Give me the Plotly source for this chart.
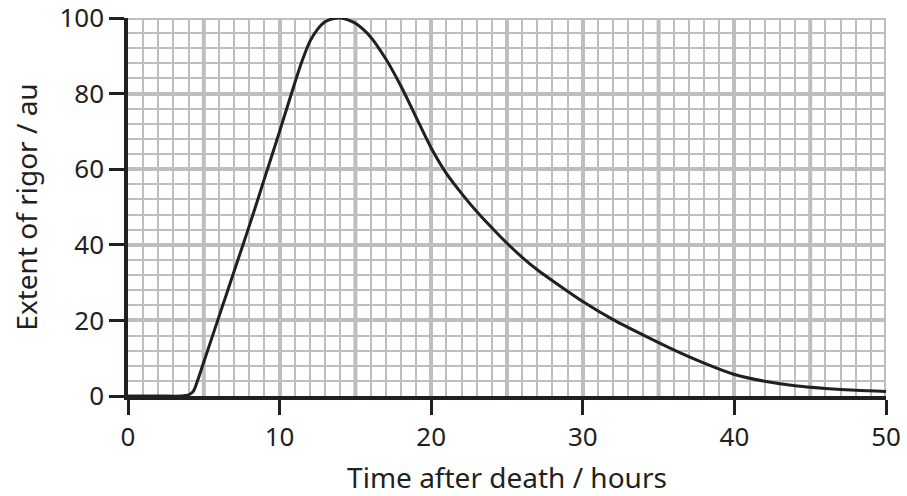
import plotly.graph_objects as go

# Data
time_h = [0, 2, 3.5, 4, 4.3, 4.6, 5, 6, 7, 8, 9, 10, 11, 11.5, 12, 12.5, 13, 13.5, 14, 14.5, 15,
          16, 17, 18, 19, 20, 21, 22, 23, 24, 25, 26, 27, 28, 30,
          32, 34, 36, 38, 40, 42, 44, 46, 48, 50]
rigor = [0, 0, 0, 0.3, 1.2, 4.2, 9, 21, 33, 45, 57.5, 70, 82.8, 88.8, 93.8, 97, 99, 99.8, 100, 99.5, 98.6,
         95, 89.2, 82, 73.8, 65.6, 58.9, 53.6, 48.8, 44.5, 40.4, 36.7, 33.4, 30.5, 25,
         20.2, 16.1, 12.2, 8.7, 5.7, 3.9, 2.7, 2.0, 1.5, 1.2]

x_ticks = [0, 10, 20, 30, 40, 50]
y_ticks = [0, 20, 40, 60, 80, 100]
x_half_major = [5, 15, 25, 35, 45]

TXT = "#231f20"
GRID = "#bcbec0"
FONT = "Noto Sans, Open Sans, sans-serif"

fig = go.Figure()
fig.add_trace(go.Scatter(x=time_h, y=rigor, mode="lines",
                         line=dict(color=TXT, width=3, shape="spline", smoothing=0.8),
                         hoverinfo="skip", showlegend=False, cliponaxis=False))

shapes = []
for xv in x_half_major:
    shapes.append(dict(type="line", xref="x", yref="y", x0=xv, x1=xv, y0=0, y1=100,
                       line=dict(color=GRID, width=4), layer="below"))
# top and right border
shapes.append(dict(type="line", xref="x", yref="y", x0=0, x1=50, y0=100, y1=100,
                   line=dict(color=GRID, width=4), layer="below"))
shapes.append(dict(type="line", xref="x", yref="y", x0=50, x1=50, y0=0, y1=100,
                   line=dict(color=GRID, width=4), layer="below"))

fig.update_layout(
    width=907, height=496,
    margin=dict(l=128, r=21, t=18, b=100, autoexpand=False),
    paper_bgcolor="white", plot_bgcolor="white",
    font=dict(family=FONT, color=TXT, size=23),
    shapes=shapes,
    xaxis=dict(range=[0, 50], tickvals=x_ticks, ticks="outside", ticklen=15, tickwidth=2.5,
               tickcolor=TXT, showline=True, linecolor=TXT, linewidth=3.5,
               showgrid=True, gridcolor=GRID, gridwidth=4, zeroline=False, automargin=False,
               minor=dict(dtick=1, showgrid=True, gridcolor=GRID, gridwidth=2, ticks=""),
               title=dict(text="Time after death / hours", standoff=17),
               tickfont=dict(size=26), ticklabeloverflow="allow", fixedrange=True),
    yaxis=dict(range=[0, 100], tickvals=y_ticks, ticks="outside", ticklen=15, tickwidth=2.5,
               tickcolor=TXT, showline=True, linecolor=TXT, linewidth=3.5,
               showgrid=True, gridcolor=GRID, gridwidth=4, zeroline=False, automargin=False,
               minor=dict(dtick=4, showgrid=True, gridcolor=GRID, gridwidth=2, ticks=""),
               title=dict(text="Extent of rigor / au", standoff=15),
               tickfont=dict(size=26), ticklabeloverflow="allow", fixedrange=True),
)

fig.write_html("out.html", config={"displayModeBar": False},
               post_script="document.body.style.margin='0';document.body.style.overflow='hidden';")
